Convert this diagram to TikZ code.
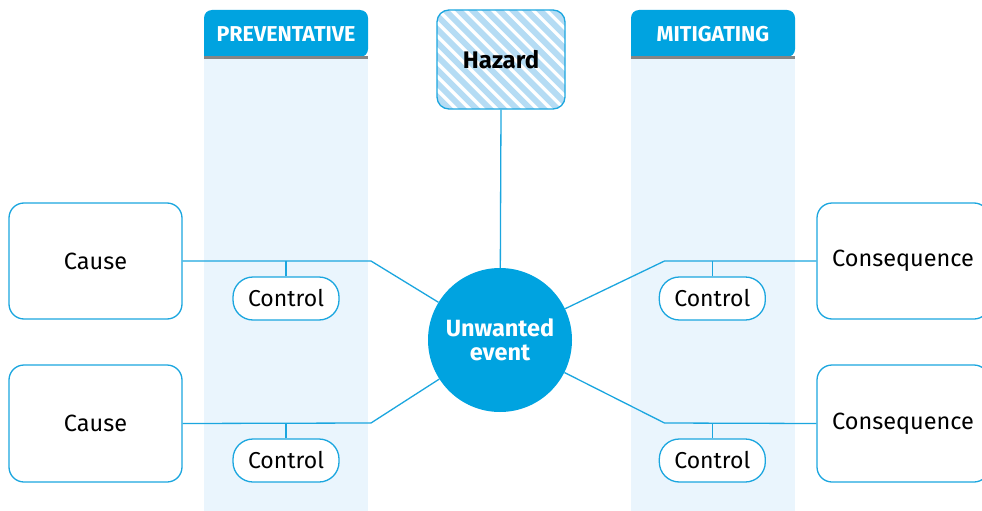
\documentclass[tikz,border=0pt]{standalone}
\usepackage{fontspec}
\setmainfont{Fira Sans}
\definecolor{mainblue}{HTML}{00A3E0}
\definecolor{linblue}{HTML}{1BA6DF}
\definecolor{bandblue}{HTML}{EAF5FD}
\definecolor{stripeblue}{HTML}{B5DCF4}
\definecolor{hdrgray}{HTML}{858585}
\tikzset{
  conn/.style={draw=linblue, line width=1.3pt},
  bigbox/.style={draw=linblue, line width=1.3pt, rounded corners=15pt, fill=white,
    minimum width=173pt, minimum height=116pt, inner sep=0pt, font=\fontsize{23.5}{26}\selectfont},
  ctrlbox/.style={draw=linblue, line width=1.3pt, rounded corners=20pt, fill=white,
    minimum width=106pt, minimum height=43pt, inner sep=0pt, font=\fontsize{23}{26}\selectfont},
  hdrtext/.style={text=white, font=\fontsize{21.5}{24}\selectfont\bfseries},
}
\begin{document}
\begin{tikzpicture}[x=1pt,y=-1pt]
\clip (0,0) rectangle (982,511);
\fill[white] (0,0) rectangle (982,511);
% bands
\fill[bandblue] (204,58) rectangle (368,511);
\fill[bandblue] (631,58) rectangle (795,511);
\fill[mainblue, rounded corners=8pt] (204,57) -- (204,10) -- (368,10) -- (368,57) [sharp corners] -- cycle;
\fill[mainblue, rounded corners=8pt] (631,57) -- (631,10) -- (795,10) -- (795,57) [sharp corners] -- cycle;
\fill[hdrgray] (204,56) rectangle (368,59);
\fill[hdrgray] (631,56) rectangle (795,59);
\node[hdrtext] (prev) at (286,34) {PREVENTATIVE};
\node[hdrtext] (miti) at (713,34) {MITIGATING};
% hazard stripes
\begin{scope}
\clip[rounded corners=12pt] (437,10) rectangle (565,109);
\foreach \i in {0,...,20} {
  \draw[stripeblue, line width=6pt] (437-110+\i*13.5,0) -- ++(130,130);
}
\end{scope}
\node[draw=linblue, line width=1.3pt, rounded corners=12pt, minimum width=128pt, minimum height=99pt,
  inner sep=0pt, font=\fontsize{24}{26}\selectfont\bfseries] (haz) at (501,59.5) {Hazard};
% central event
\node[circle, fill=mainblue, minimum size=144pt, inner sep=0pt, text=white, align=center,
  font=\fontsize{23.5}{24}\selectfont\bfseries] (ev) at (500,340) {Unwanted\\event};
% boxes
\node[bigbox] (c1) at (95.5,261) {Cause};
\node[bigbox, minimum height=117pt] (c2) at (95.5,423.5) {Cause};
\node[bigbox, minimum width=172pt] (q1) at (903,261) {Consequence};
\node[bigbox, minimum width=172pt, minimum height=117pt] (q2) at (903,423.5) {Consequence};
\node[ctrlbox] (k1) at (286,298.5) {Control};
\node[ctrlbox] (k2) at (286,460.5) {Control};
\node[ctrlbox] (k3) at (712.3,298.5) {Control};
\node[ctrlbox] (k4) at (712.3,460.5) {Control};
% bends
\coordinate (b1) at (371,261);
\coordinate (b2) at (371,423);
\coordinate (b3) at (664.5,261);
\coordinate (b4) at (664.5,423);
% connectors
\draw[conn] (haz.south) -- (ev);
\draw[conn] (c1.east) -- (b1) -- (ev);
\draw[conn] (c2.east) -- (b2) -- (ev);
\draw[conn] (q1.west) -- (b3) -- (ev);
\draw[conn] (q2.west) -- (b4) -- (ev);
\draw[conn] (k1.north) -- (k1.north |- b1);
\draw[conn] (k2.north) -- (k2.north |- b2);
\draw[conn] (k3.north) -- (k3.north |- b3);
\draw[conn] (k4.north) -- (k4.north |- b4);
\end{tikzpicture}
\end{document}
